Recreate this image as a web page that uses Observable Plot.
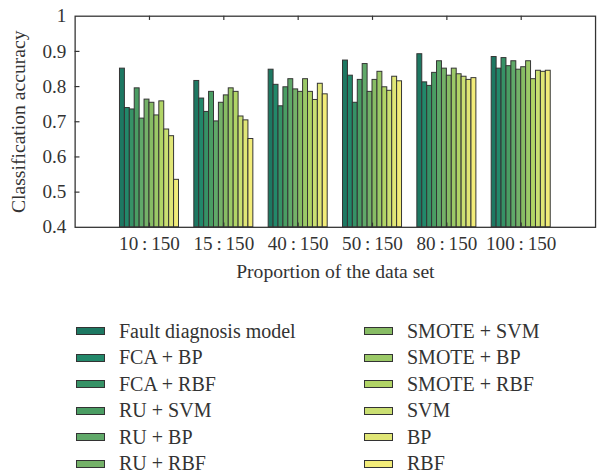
<!DOCTYPE html>
<html>
<head>
<meta charset="utf-8">
<script src="https://cdn.jsdelivr.net/npm/d3@7"></script>
<script src="https://cdn.jsdelivr.net/npm/@observablehq/plot@0.6"></script>
<style>
  html, body { margin: 0; padding: 0; background: #fff; overflow: hidden; }
  #chart { position: relative; width: 599px; height: 476px; overflow: hidden; font-family: "Liberation Serif", "DejaVu Serif", serif; color: #333; }
  #chart svg { position: absolute; left: 0; top: 0; }
  #legend { position: absolute; left: 76px; top: 318px; display: grid; grid-auto-flow: column;
            grid-template-columns: 288px 230px; grid-template-rows: repeat(6, 26.5px); }
  .item { display: flex; align-items: center; font-size: 20px; white-space: nowrap; }
  .sw { width: 27px; height: 6px; border: 1.5px solid #333; margin-right: 14px; flex: none; }
</style>
</head>
<body>
<div id="chart"><div id="legend"></div></div>
<script>
// Sample proportions (x groups)
const groups = ["10\u2009:\u2009150", "15\u2009:\u2009150", "40\u2009:\u2009150", "50\u2009:\u2009150", "80\u2009:\u2009150", "100\u2009:\u2009150"];

// Methods compared, in bar order within each group
const methods = [
  "Fault diagnosis model", "FCA + BP", "FCA + RBF", "RU + SVM", "RU + BP", "RU + RBF",
  "SMOTE + SVM", "SMOTE + BP", "SMOTE + RBF", "SVM", "BP", "RBF"
];

// Classification accuracy of each method, one value per group
const faultModel = [0.851, 0.816, 0.848, 0.874, 0.892, 0.884];
const fcaBP      = [0.739, 0.766, 0.805, 0.831, 0.812, 0.851];
const fcaRBF     = [0.735, 0.728, 0.744, 0.754, 0.802, 0.881];
const ruSVM      = [0.795, 0.785, 0.798, 0.819, 0.839, 0.858];
const ruBP       = [0.709, 0.701, 0.821, 0.864, 0.872, 0.872];
const ruRBF      = [0.763, 0.754, 0.792, 0.785, 0.851, 0.848];
const smoteSVM   = [0.754, 0.775, 0.785, 0.819, 0.831, 0.855];
const smoteBP    = [0.718, 0.795, 0.821, 0.842, 0.851, 0.872];
const smoteRBF   = [0.758, 0.785, 0.785, 0.798, 0.835, 0.821];
const svm        = [0.678, 0.715, 0.762, 0.788, 0.828, 0.845];
const bp         = [0.659, 0.704, 0.808, 0.828, 0.819, 0.842];
const rbf        = [0.535, 0.651, 0.778, 0.815, 0.824, 0.845];

const series = [faultModel, fcaBP, fcaRBF, ruSVM, ruBP, ruRBF, smoteSVM, smoteBP, smoteRBF, svm, bp, rbf];

// Green-to-yellow palette, one colour per method
const colors = [
  "#1d7862", "#22886a", "#369266", "#4a9d63", "#60a969", "#74b168",
  "#87bc64", "#9bc967", "#b1d466", "#cadf72", "#e0e676", "#f2ec79"
];

const yTicks = [0.4, 0.5, 0.6, 0.7, 0.8, 0.9, 1];

// Group layout on a linear x axis: groups sit at 1..6, each cluster 0.794 wide
const clusterWidth = 0.794;
const barWidth = clusterWidth / methods.length;

const rows = [];
series.forEach((vals, s) => vals.forEach((v, g) => rows.push({
  group: groups[g], gi: g + 1, method: methods[s], si: s, value: v
})));

const x1 = d => d.gi - clusterWidth / 2 + d.si * barWidth;
const x2 = d => x1(d) + barWidth;

const font = "Liberation Serif, DejaVu Serif, serif";

const plot = Plot.plot({
  width: 610,
  height: 300,
  marginLeft: 76,
  marginRight: 4,
  marginTop: 16,
  marginBottom: 69,
  style: { fontFamily: font, color: "#333", background: "transparent" },
  x: { type: "linear", domain: [0, 7], axis: null },
  y: { domain: [0.4, 1], axis: null },
  color: { domain: methods, range: colors },
  marks: [
    Plot.rectY(rows, {
      x1, x2, y1: () => 0.4, y2: "value",
      fill: "method", stroke: "#333", strokeWidth: 1
    }),
    // inward ticks on the left, top and bottom edges
    Plot.ruleY(yTicks.slice(1, -1), { y: d => d, x1: () => 0, x2: () => 0.065, stroke: "#333", strokeWidth: 1.2 }),
    Plot.ruleX(groups, { x: (d, i) => i + 1, y1: () => 0.4, y2: () => 0.412, stroke: "#333", strokeWidth: 1.2 }),
    Plot.ruleX(groups, { x: (d, i) => i + 1, y1: () => 1, y2: () => 0.988, stroke: "#333", strokeWidth: 1.2 }),
    Plot.frame({ stroke: "#333", strokeWidth: 1.3 }),
    // tick labels
    Plot.text(yTicks, {
      x: () => 0, y: d => d, dx: -9, textAnchor: "end",
      text: d => d === 1 ? "1" : d.toFixed(1), fontSize: 19.5, fill: "#333"
    }),
    Plot.text(groups, {
      x: (d, i) => i + 1, y: () => 0.4, dy: 17, text: d => d, fontSize: 19.5, fill: "#333"
    }),
    // axis titles
    Plot.text(["Proportion of the data set"], {
      x: () => 3.5, y: () => 0.4, dy: 45, text: d => d, fontSize: 20, fill: "#333"
    }),
    Plot.text(["Classification accuracy"], {
      frameAnchor: "left", textAnchor: "middle", dx: -57, rotate: -90,
      text: d => d, fontSize: 20, fill: "#333"
    })
  ]
});

document.getElementById("chart").prepend(plot);

// Legend: two columns of six entries
const legend = d3.select("#legend");
methods.forEach((m, i) => {
  const item = legend.append("div").attr("class", "item");
  item.append("div").attr("class", "sw").style("background", colors[i]);
  item.append("span").text(m);
});
</script>
</body>
</html>
